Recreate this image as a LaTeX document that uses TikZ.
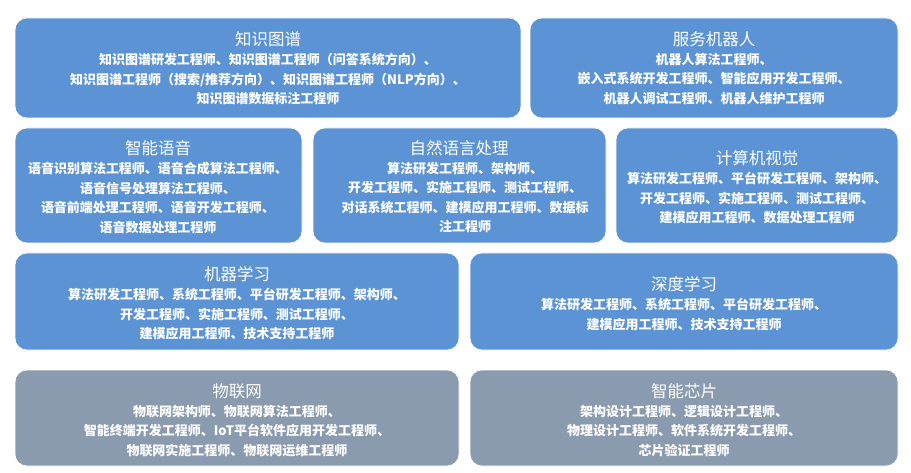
\documentclass[tikz,border=0pt]{standalone}
\usepackage{fontspec}
\setmainfont{Noto Sans CJK SC}
\begin{document}
\begin{tikzpicture}[x=1pt,y=-1pt,
  card/.style={rounded corners=12pt,fill=#1,draw=white,line width=0.6pt},
  ttl/.style={text=white,font=\fontsize{16.5}{18}\selectfont,inner sep=0pt},
  body/.style={text=white,font=\fontsize{13}{19.5}\selectfont\bfseries,align=center,inner sep=0pt}]
\definecolor{cblue}{HTML}{5B93D5}
\definecolor{cgray}{HTML}{8A9AAF}
\useasboundingbox[fill=white] (0,0) rectangle (911,473);
% boxes
\path[card=cblue] (15,18) rectangle (521,118);
\path[card=cblue] (530,18) rectangle (898,118);
\path[card=cblue] (15,128) rectangle (302,243);
\path[card=cblue] (313,128) rectangle (606,243);
\path[card=cblue] (616,128) rectangle (898,243);
\path[card=cblue] (15,253) rectangle (459,350);
\path[card=cblue] (470,253) rectangle (898,350);
\path[card=cgray] (15,370) rectangle (459,466);
\path[card=cgray] (470,370) rectangle (898,466);
% texts
\node[ttl] (t1) at (268,39) {知识图谱};
\node[body,anchor=north] (b1) at (268,53) {知识图谱研发工程师、知识图谱工程师（问答系统方向）、\\知识图谱工程师（搜索/推荐方向）、知识图谱工程师（NLP方向）、\\知识图谱数据标注工程师};
\node[ttl] (t2) at (714,39) {服务机器人};
\node[body,anchor=north] (b2) at (714,53) {机器人算法工程师、\\嵌入式系统开发工程师、智能应用开发工程师、\\机器人调试工程师、机器人维护工程师};
\node[ttl] (t3) at (158,148) {智能语音};
\node[body,anchor=north] (b3) at (158,162) {语音识别算法工程师、语音合成算法工程师、\\语音信号处理算法工程师、\\语音前端处理工程师、语音开发工程师、\\语音数据处理工程师};
\node[ttl] (t4) at (459,148) {自然语言处理};
\node[body,anchor=north] (b4) at (465,162) {算法研发工程师、架构师、\\开发工程师、实施工程师、测试工程师、\\对话系统工程师、建模应用工程师、数据标\\注工程师};
\node[ttl] (t5) at (757,158) {计算机视觉};
\node[body,anchor=north] (b5) at (757,172) {算法研发工程师、平台研发工程师、架构师、\\开发工程师、实施工程师、测试工程师、\\建模应用工程师、数据处理工程师};
\node[ttl] (t6) at (237,274) {机器学习};
\node[body,anchor=north] (b6) at (237,288) {算法研发工程师、系统工程师、平台研发工程师、架构师、\\开发工程师、实施工程师、测试工程师、\\建模应用工程师、技术支持工程师};
\node[ttl] (t7) at (684,284) {深度学习};
\node[body,anchor=north] (b7) at (684,298) {算法研发工程师、系统工程师、平台研发工程师、\\建模应用工程师、技术支持工程师};
\node[ttl] (t8) at (237,391) {物联网};
\node[body,anchor=north] (b8) at (237,405) {物联网架构师、物联网算法工程师、\\智能终端开发工程师、IoT平台软件应用开发工程师、\\物联网实施工程师、物联网运维工程师};
\node[ttl] (t9) at (684,391) {智能芯片};
\node[body,anchor=north] (b9) at (684,405) {架构设计工程师、逻辑设计工程师、\\物理设计工程师、软件系统开发工程师、\\芯片验证工程师};
\end{tikzpicture}
\end{document}
